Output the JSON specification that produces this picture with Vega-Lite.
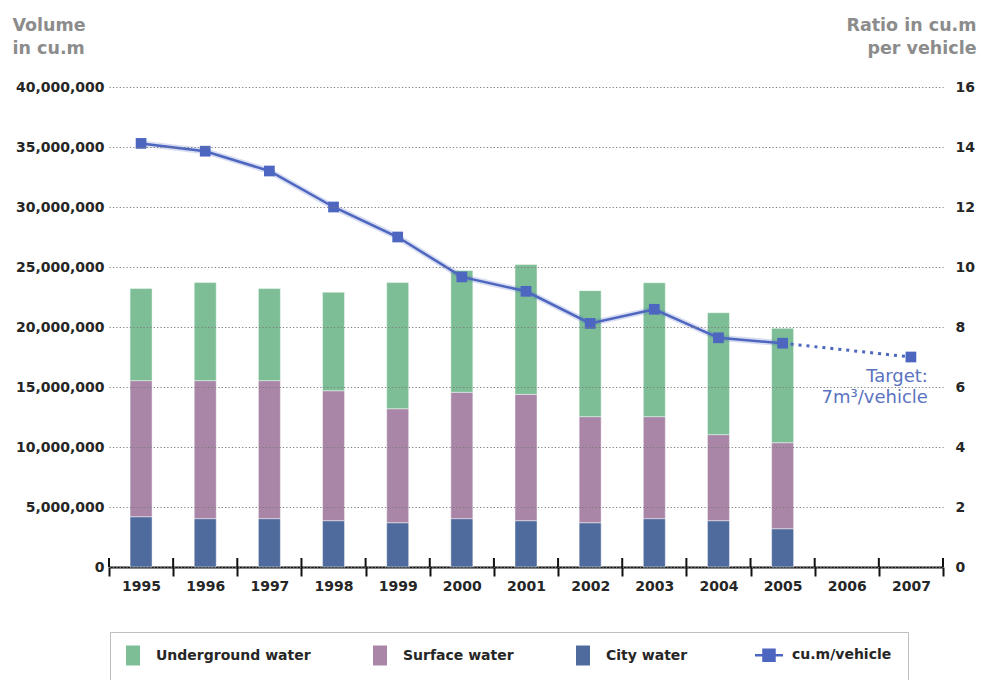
{
  "$schema": "https://vega.github.io/schema/vega-lite/v6.json",
  "width": 834,
  "height": 480,
  "autosize": {"type": "none"},
  "padding": {"left": 109, "top": 87, "right": 38, "bottom": 113},
  "background": "white",
  "config": {
    "view": {"stroke": null},
    "font": "DejaVu Sans",
    "axis": {
      "labelFont": "DejaVu Sans",
      "labelFontSize": 14,
      "labelFontWeight": "bold",
      "labelColor": "#262626",
      "titleFont": "DejaVu Sans",
      "titleFontSize": 17.5,
      "titleFontWeight": "bold",
      "titleColor": "#8c8c8c"
    }
  },
  "datasets": {
    "volumes": [
      {"year": "1995", "source": "City water", "volume": 4190000},
      {"year": "1995", "source": "Surface water", "volume": 11340000},
      {"year": "1995", "source": "Underground water", "volume": 7670000},
      {"year": "1996", "source": "City water", "volume": 4030000},
      {"year": "1996", "source": "Surface water", "volume": 11500000},
      {"year": "1996", "source": "Underground water", "volume": 8170000},
      {"year": "1997", "source": "City water", "volume": 4030000},
      {"year": "1997", "source": "Surface water", "volume": 11500000},
      {"year": "1997", "source": "Underground water", "volume": 7670000},
      {"year": "1998", "source": "City water", "volume": 3860000},
      {"year": "1998", "source": "Surface water", "volume": 10830000},
      {"year": "1998", "source": "Underground water", "volume": 8210000},
      {"year": "1999", "source": "City water", "volume": 3690000},
      {"year": "1999", "source": "Surface water", "volume": 9500000},
      {"year": "1999", "source": "Underground water", "volume": 10510000},
      {"year": "2000", "source": "City water", "volume": 4030000},
      {"year": "2000", "source": "Surface water", "volume": 10530000},
      {"year": "2000", "source": "Underground water", "volume": 10140000},
      {"year": "2001", "source": "City water", "volume": 3860000},
      {"year": "2001", "source": "Surface water", "volume": 10530000},
      {"year": "2001", "source": "Underground water", "volume": 10810000},
      {"year": "2002", "source": "City water", "volume": 3690000},
      {"year": "2002", "source": "Surface water", "volume": 8840000},
      {"year": "2002", "source": "Underground water", "volume": 10500000},
      {"year": "2003", "source": "City water", "volume": 4030000},
      {"year": "2003", "source": "Surface water", "volume": 8500000},
      {"year": "2003", "source": "Underground water", "volume": 11160000},
      {"year": "2004", "source": "City water", "volume": 3860000},
      {"year": "2004", "source": "Surface water", "volume": 7170000},
      {"year": "2004", "source": "Underground water", "volume": 10160000},
      {"year": "2005", "source": "City water", "volume": 3190000},
      {"year": "2005", "source": "Surface water", "volume": 7170000},
      {"year": "2005", "source": "Underground water", "volume": 9530000}
    ],
    "ratio": [
      {"year": "1995", "ratio": 14.12, "kind": "actual"},
      {"year": "1996", "ratio": 13.86, "kind": "actual"},
      {"year": "1997", "ratio": 13.2, "kind": "actual"},
      {"year": "1998", "ratio": 12.0, "kind": "actual"},
      {"year": "1999", "ratio": 11.0, "kind": "actual"},
      {"year": "2000", "ratio": 9.67, "kind": "actual"},
      {"year": "2001", "ratio": 9.19, "kind": "actual"},
      {"year": "2002", "ratio": 8.12, "kind": "actual"},
      {"year": "2003", "ratio": 8.59, "kind": "actual"},
      {"year": "2004", "ratio": 7.64, "kind": "actual"},
      {"year": "2005", "ratio": 7.46, "kind": "actual"},
      {"year": "2007", "ratio": 7.0, "kind": "target"}
    ],
    "years": [
      {"year": "1995"}, {"year": "1996"}, {"year": "1997"}, {"year": "1998"}, {"year": "1999"},
      {"year": "2000"}, {"year": "2001"}, {"year": "2002"}, {"year": "2003"}, {"year": "2004"},
      {"year": "2005"}, {"year": "2006"}, {"year": "2007"}
    ]
  },
  "encoding": {
    "x": {
      "field": "year",
      "type": "nominal",
      "scale": {
        "domain": ["1995", "1996", "1997", "1998", "1999", "2000", "2001", "2002", "2003", "2004", "2005", "2006", "2007"],
        "paddingInner": 0,
        "paddingOuter": 0
      },
      "axis": {
        "title": null,
        "labelAngle": 0,
        "domainColor": "#111",
        "domainWidth": 2,
        "tickColor": "#111",
        "tickWidth": 2,
        "tickSize": 9,
        "tickBand": "extent",
        "labelPadding": 3
      }
    }
  },
  "layer": [
    {
      "layer": [
        {
          "data": {"name": "volumes"},
          "transform": [
            {"calculate": "indexof(['City water', 'Surface water', 'Underground water'], datum.source)", "as": "stackIdx"}
          ],
          "mark": {"type": "bar", "width": 22, "stroke": "#ffffff", "strokeOpacity": 0.45, "strokeWidth": 1},
          "encoding": {
            "y": {
              "field": "volume",
              "type": "quantitative",
              "stack": "zero",
              "scale": {"domain": [0, 40000000], "nice": false},
              "axis": {
                "title": ["Volume", "in cu.m"],
                "titleAngle": 0,
                "titleAlign": "left",
                "titleBaseline": "alphabetic",
                "titleX": -97,
                "titleY": -57,
                "titleLineHeight": 23,
                "values": [0, 5000000, 10000000, 15000000, 20000000, 25000000, 30000000, 35000000, 40000000],
                "format": ",d",
                "domain": false,
                "ticks": false,
                "labelPadding": 5,
                "grid": true,
                "gridColor": "#7a7a7a",
                "gridDash": [1.2, 2.2],
                "gridWidth": 1,
                "zindex": 1
              }
            },
            "color": {
              "field": "source",
              "type": "nominal",
              "scale": {
                "domain": ["Underground water", "Surface water", "City water", "cu.m/vehicle"],
                "range": ["#7dbe96", "#a986a8", "#4f6a9c", "#4d66c0"]
              },
              "legend": {
                "title": null,
                "orient": "none",
                "legendX": 1,
                "legendY": 545,
                "direction": "horizontal",
                "padding": 16,
                "strokeColor": "#bdbdbd",
                "fillColor": "#ffffff",
                "symbolSize": 400,
                "symbolType": {"expr": "datum.value === 'cu.m/vehicle' ? 'M-1.4,0H1.4M-0.55,-0.55H0.55V0.55H-0.55Z' : 'M-0.7,-1H0.7V1H-0.7Z'"},
                "symbolStrokeColor": "#4d66c0",
                "symbolStrokeWidth": {"expr": "datum.value === 'cu.m/vehicle' ? 2.5 : 0"},
                "symbolOpacity": 1,
                "labelOffset": 16,
                "columnPadding": 62,
                "labelFont": "DejaVu Sans",
                "labelFontSize": 14,
                "labelFontWeight": "bold",
                "labelColor": "#262626",
                "labelLimit": 300
              }
            },
            "order": {"field": "stackIdx", "type": "quantitative", "sort": "ascending"}
          }
        },
        {
          "data": {"name": "years"},
          "mark": {"type": "rule", "color": "#111", "strokeWidth": 2},
          "encoding": {
            "x": {"field": "year", "type": "nominal", "bandPosition": 0},
            "y": {"datum": 0},
            "y2": {"datum": 750000}
          }
        },
        {
          "data": {"name": "years"},
          "transform": [{"filter": "datum.year === '2007'"}],
          "mark": {"type": "rule", "color": "#111", "strokeWidth": 2},
          "encoding": {
            "x": {"field": "year", "type": "nominal", "bandPosition": 1},
            "y": {"datum": 0},
            "y2": {"datum": 750000}
          }
        }
      ]
    },
    {
      "data": {"name": "ratio"},
      "encoding": {
        "y": {
          "field": "ratio",
          "type": "quantitative",
          "scale": {"domain": [0, 16], "nice": false},
          "axis": {
            "orient": "right",
            "title": ["Ratio in cu.m", "per vehicle"],
            "titleAngle": 0,
            "titleAlign": "right",
            "titleBaseline": "alphabetic",
            "titleX": 33,
            "titleY": -57,
            "titleLineHeight": 23,
            "values": [0, 2, 4, 6, 8, 10, 12, 14, 16],
            "domain": false,
            "ticks": false,
            "grid": false,
            "labelPadding": 12
          }
        }
      },
      "layer": [
        {
          "transform": [{"filter": "datum.kind === 'actual'"}],
          "mark": {"type": "line", "color": "#4d66c0", "strokeWidth": 6, "opacity": 0.22}
        },
        {
          "transform": [{"filter": "datum.kind === 'actual'"}],
          "mark": {"type": "line", "strokeWidth": 2.5},
          "encoding": {"color": {"datum": "cu.m/vehicle"}}
        },
        {
          "transform": [{"filter": "datum.year === '2005' || datum.year === '2007'"}],
          "mark": {"type": "line", "strokeWidth": 3, "strokeDash": [3, 5]},
          "encoding": {"color": {"datum": "cu.m/vehicle"}}
        },
        {
          "mark": {"type": "point", "shape": "square", "filled": true, "size": 115, "opacity": 1},
          "encoding": {"color": {"datum": "cu.m/vehicle"}}
        },
        {
          "transform": [{"filter": "datum.kind === 'target'"}],
          "mark": {
            "type": "text",
            "text": ["Target:", "7m³/vehicle"],
            "align": "right",
            "baseline": "alphabetic",
            "dx": 17,
            "dy": 25,
            "lineHeight": 21,
            "font": "DejaVu Sans",
            "fontSize": 18,
            "color": "#5a72c0"
          }
        }
      ]
    }
  ],
  "resolve": {"scale": {"y": "independent"}}
}
